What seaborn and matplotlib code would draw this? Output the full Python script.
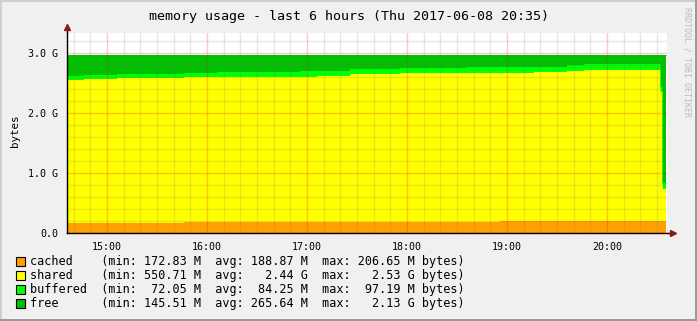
import numpy as np
import pandas as pd
import matplotlib
matplotlib.use("Agg")
import matplotlib.pyplot as plt
import seaborn as sns
from matplotlib.ticker import FixedLocator, MultipleLocator
from matplotlib.patches import Rectangle
from matplotlib.lines import Line2D

# ---------------- data (GB) ----------------
times = ["14:36", "14:46", "14:56", "15:06", "15:16", "15:26", "15:36", "15:46",
         "15:56", "16:06", "16:16", "16:26", "16:36", "16:46", "16:56", "17:06",
         "17:16", "17:26", "17:36", "17:46", "17:56", "18:06", "18:16", "18:26",
         "18:36", "18:46", "18:56", "19:06", "19:16", "19:26", "19:36", "19:46",
         "19:56", "20:06", "20:16", "20:26", "20:31:50", "20:33:00"]
end_time = "20:35:30"

cached = [0.172, 0.172, 0.172, 0.172, 0.172, 0.172, 0.172, 0.190,
          0.190, 0.190, 0.190, 0.190, 0.190, 0.190, 0.190, 0.190,
          0.190, 0.190, 0.190, 0.190, 0.190, 0.190, 0.190, 0.190,
          0.190, 0.190, 0.200, 0.200, 0.200, 0.200, 0.200, 0.200,
          0.200, 0.206, 0.206, 0.206, 0.206, 0.206]
shared = [2.378, 2.395, 2.395, 2.406, 2.406, 2.406, 2.413, 2.404,
          2.404, 2.410, 2.410, 2.410, 2.416, 2.416, 2.416, 2.420,
          2.420, 2.454, 2.454, 2.454, 2.471, 2.471, 2.471, 2.477,
          2.482, 2.482, 2.472, 2.475, 2.478, 2.480, 2.500, 2.511,
          2.511, 2.510, 2.510, 2.516, 2.144, 0.530]
buffered = [0.072, 0.066, 0.066, 0.066, 0.072, 0.072, 0.065, 0.073,
            0.073, 0.089, 0.089, 0.089, 0.083, 0.083, 0.100, 0.096,
            0.096, 0.095, 0.095, 0.095, 0.089, 0.089, 0.089, 0.083,
            0.095, 0.095, 0.095, 0.092, 0.089, 0.087, 0.100, 0.100,
            0.100, 0.095, 0.095, 0.089, 0.090, 0.105]
free = [0.345, 0.334, 0.334, 0.323, 0.317, 0.317, 0.317, 0.300,
        0.300, 0.278, 0.278, 0.278, 0.278, 0.278, 0.261, 0.261,
        0.261, 0.228, 0.228, 0.228, 0.217, 0.217, 0.217, 0.217,
        0.200, 0.200, 0.200, 0.200, 0.200, 0.200, 0.167, 0.156,
        0.156, 0.156, 0.156, 0.156, 0.527, 2.127]

series_names = ["cached", "shared", "buffered", "free"]
legend_min = ["172.83 M", "550.71 M", " 72.05 M", "145.51 M"]
legend_avg = ["188.87 M", "  2.44 G", " 84.25 M", "265.64 M"]
legend_max = ["206.65 M", "  2.53 G", " 97.19 M", "  2.13 G"]

x_tick_hours = [15, 16, 17, 18, 19, 20]
x_tick_labels = ["15:00", "16:00", "17:00", "18:00", "19:00", "20:00"]
y_tick_values = [0, 1, 2, 3]
y_tick_labels = ["0.0", "1.0 G", "2.0 G", "3.0 G"]

title = "memory usage - last 6 hours (Thu 2017-06-08 20:35)"
ylabel = "bytes"
watermark = "RRDTOOL / TOBI OETIKER"

# ---------------- style ----------------
colors = {"cached": "#FFA000", "shared": "#FFFF00",
          "buffered": "#00FF00", "free": "#00C000"}
W, H = 697, 321
BG = "#F0F0F0"
MONO = "DejaVu Sans Mono"

sns.set_style("white")
plt.rcParams["font.family"] = [MONO, "DejaVu Sans"]


def to_hours(s):
    parts = [float(p) for p in s.split(":")]
    while len(parts) < 3:
        parts.append(0.0)
    return parts[0] + parts[1] / 60 + parts[2] / 3600


x = np.array([to_hours(t) for t in times] + [to_hours(end_time)])
vals = {n: np.array(v + [v[-1]]) for n, v in
        zip(series_names, [cached, shared, buffered, free])}

fig = plt.figure(figsize=(W / 100, H / 100), dpi=100, facecolor=BG)
ax = fig.add_axes([67 / W, 1 - 233 / H, 600 / W, 200.5 / H])
ax.set_facecolor("white")

lower = np.zeros_like(x)
rows = []
for n in series_names:
    upper = lower + vals[n]
    ax.fill_between(x, lower, upper, step="post", color=colors[n],
                    linewidth=0, zorder=1)
    for xi, ui in zip(x, upper):
        rows.append({"t": xi, "top": ui, "series": n})
    lower = upper

df = pd.DataFrame(rows)
sns.lineplot(data=df, x="t", y="top", hue="series", palette=colors,
             estimator=None, drawstyle="steps-post", linewidth=0.5,
             legend=False, ax=ax, zorder=2)

ax.set_xlim(14.6, 20.6)
ax.set_ylim(0, 3.342)

# grid
ax.xaxis.set_major_locator(FixedLocator(x_tick_hours))
ax.set_xticklabels(x_tick_labels)
ax.xaxis.set_minor_locator(MultipleLocator(1 / 6))
ax.yaxis.set_major_locator(FixedLocator(y_tick_values))
ax.set_yticklabels(y_tick_labels)
ax.yaxis.set_minor_locator(MultipleLocator(0.2))
ax.set_axisbelow(False)
ax.grid(which="minor", color=(0.45, 0.45, 0.45), alpha=0.17, linewidth=1)
ax.grid(which="major", color=(0.95, 0.1, 0.1), alpha=0.24, linewidth=1)
ax.tick_params(axis="both", which="major", labelsize=7.2, length=2.5,
               width=0.8, color="black", labelcolor="black")
ax.tick_params(axis="x", which="major", pad=4)
ax.tick_params(axis="y", which="major", pad=4)
ax.tick_params(axis="both", which="minor", length=0)
for lab in ax.get_xticklabels() + ax.get_yticklabels():
    lab.set_family(MONO)

for s in ["top", "right"]:
    ax.spines[s].set_visible(False)
for s in ["left", "bottom"]:
    ax.spines[s].set_color("black")
    ax.spines[s].set_linewidth(1)
    ax.spines[s].set_zorder(5)

# axis extensions and arrows
ax.add_line(Line2D([1.0, 1.006], [0, 0], transform=ax.transAxes,
                   color="black", lw=1, clip_on=False, zorder=5))
ax.add_line(Line2D([0, 0], [1.0, 1.02], transform=ax.transAxes,
                   color="black", lw=1, clip_on=False, zorder=5))
ax.plot([1.01], [0], marker=">", markersize=4, color="#8B1A1A",
        transform=ax.transAxes, clip_on=False, zorder=6)
ax.plot([0], [1.025], marker="^", markersize=4, color="#8B1A1A",
        transform=ax.transAxes, clip_on=False, zorder=6)

ax.set_xlabel("")
ax.set_ylabel("")

# title, y label, watermark
fig.text(349 / W, 1 - 16.5 / H, title, ha="center", va="center",
         fontsize=9.6, family=MONO, color="black")
fig.text(15 / W, 1 - 131 / H, ylabel, ha="center", va="center",
         rotation=90, fontsize=7.8, family=MONO, color="black")
fig.text(687 / W, 1 - 62 / H, watermark, ha="center", va="center",
         rotation=-90, fontsize=6, family=MONO, color="#BBBBBB")

# legend
for i, n in enumerate(series_names):
    yc = 261.3 + 14 * i
    fig.add_artist(Rectangle((16 / W, 1 - (yc + 4.5) / H), 9 / W, 9 / H,
                             transform=fig.transFigure, facecolor=colors[n],
                             edgecolor="black", linewidth=0.8))
    txt = f"{n:<10}(min: {legend_min[i]}  avg: {legend_avg[i]}  max: {legend_max[i]} bytes)"
    fig.text(30 / W, 1 - yc / H, txt, ha="left", va="center",
             fontsize=8.45, family=MONO, color="black")

# frame border (3D look)
fig.add_artist(Rectangle((0, 0), 2 / W, 1, transform=fig.transFigure,
                         facecolor="#CFCFCF", edgecolor="none"))
fig.add_artist(Rectangle((0, 1 - 2 / H), 1, 2 / H, transform=fig.transFigure,
                         facecolor="#CFCFCF", edgecolor="none"))
fig.add_artist(Rectangle((1 - 2 / W, 0), 2 / W, 1, transform=fig.transFigure,
                         facecolor="#9A9A9A", edgecolor="none"))
fig.add_artist(Rectangle((0, 0), 1, 2 / H, transform=fig.transFigure,
                         facecolor="#9A9A9A", edgecolor="none"))

fig.savefig("out.png", dpi=100, facecolor=BG)
